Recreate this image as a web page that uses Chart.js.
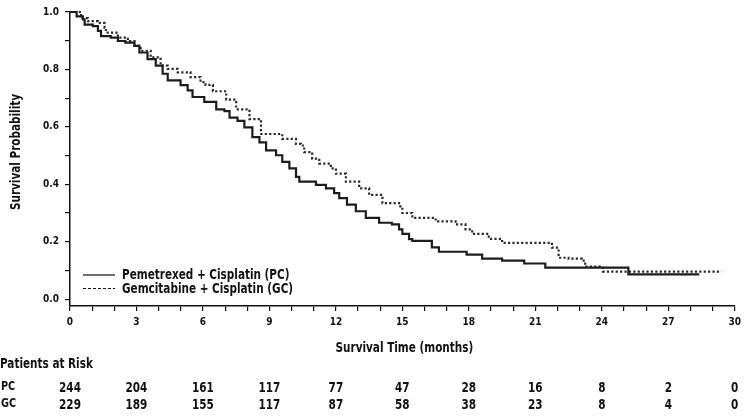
<!DOCTYPE html>
<html>
<head>
<meta charset="utf-8">
<script src="https://cdn.jsdelivr.net/npm/chart.js@4.4.1/dist/chart.umd.min.js"></script>
<style>
html,body{margin:0;padding:0;background:#fff;}
canvas{display:block;}
</style>
</head>
<body>
<canvas id="c" width="746" height="419"></canvas>
<script>
// ---- data ----
const pcTimes = [0,0.3,0.58,0.66,1.03,1.26,1.4,1.84,2.16,2.5,2.91,3.13,3.5,3.87,4.18,4.41,4.99,5.31,5.53,6.06,6.6,6.97,7.2,7.56,7.87,8.23,8.55,8.85,9.3,9.58,9.9,10.2,10.35,11.1,11.55,11.92,12.15,12.5,12.9,13.35,13.95,14.53,14.85,15.0,15.3,15.45,16.33,16.65,17.9,18.6,19.5,20.5,21.45,25.2,28.4];
const pcSurv  = [1.0,0.985,0.974,0.956,0.951,0.934,0.916,0.911,0.899,0.893,0.882,0.859,0.836,0.813,0.785,0.762,0.745,0.727,0.704,0.687,0.661,0.655,0.632,0.621,0.598,0.564,0.546,0.518,0.501,0.478,0.455,0.426,0.409,0.398,0.386,0.369,0.352,0.329,0.306,0.283,0.266,0.260,0.243,0.227,0.209,0.203,0.180,0.165,0.155,0.141,0.134,0.124,0.110,0.086,0.086];
const gcTimes = [0,0.5,0.81,1.26,1.56,1.62,2.16,2.61,2.91,3.19,3.64,4.09,4.41,4.86,5.44,5.89,6.12,6.45,7.05,7.5,8.1,8.62,9.58,10.2,10.42,10.57,10.93,11.25,11.77,12.0,12.45,13.05,13.5,14.1,14.85,15.0,15.45,16.5,17.4,17.85,18.15,18.9,19.5,21.75,22.05,22.5,23.1,23.25,24.05,29.4];
const gcSurv  = [1.0,0.979,0.968,0.962,0.945,0.928,0.911,0.899,0.882,0.865,0.842,0.813,0.802,0.790,0.773,0.756,0.746,0.724,0.695,0.661,0.627,0.575,0.558,0.541,0.535,0.512,0.489,0.472,0.455,0.437,0.409,0.386,0.363,0.334,0.323,0.300,0.283,0.271,0.260,0.243,0.227,0.210,0.196,0.179,0.144,0.141,0.134,0.113,0.096,0.096];
const xTickValues = [0,1,2,3,4,5,6,7,8,9,10,11,12,13,14,15,16,17,18,19,20,21,22,23,24,25,26,27,28,29,30];
const xTickLabels = ['0','3','6','9','12','15','18','21','24','27','30'];
const yTickValues = [0,0.1,0.2,0.3,0.4,0.5,0.6,0.7,0.8,0.9,1.0];
const yTickLabels = ['0.0','0.2','0.4','0.6','0.8','1.0'];
const riskTimes = [0,3,6,9,12,15,18,21,24,27,30];
const riskPC = [244,204,161,117,77,47,28,16,8,2,0];
const riskGC = [229,189,155,117,87,58,38,23,8,4,0];
const seriesNames = ['Pemetrexed + Cisplatin (PC)','Gemcitabine + Cisplatin (GC)'];

const FONT = "'Liberation Sans Narrow','DejaVu Sans Condensed','Roboto Condensed',sans-serif";
const INK = '#111';
const SX = 0.83;

const pcData = pcTimes.map((t,i)=>({x:t,y:pcSurv[i]}));
const gcData = gcTimes.map((t,i)=>({x:t,y:gcSurv[i]}));

function txt(ctx, s, x, y, align, size, rot){
  ctx.save();
  ctx.translate(x, y);
  if (rot) ctx.rotate(rot);
  ctx.scale(SX, 1);
  ctx.font = "bold " + size + "px " + FONT;
  ctx.textAlign = align;
  ctx.textBaseline = 'middle';
  ctx.fillStyle = INK;
  ctx.fillText(s, 0, 0);
  ctx.restore();
}

const overlay = {
  id:'overlay',
  afterDraw(chart){
    const ctx = chart.ctx;
    const xs = chart.scales.x;
    const ca = chart.chartArea;
    // y axis title
    txt(ctx, 'Survival Probability', 16, 152, 'center', 14, -Math.PI/2);
    // x axis title
    txt(ctx, 'Survival Time (months)', (ca.left+ca.right)/2 + 2, 348, 'center', 14);
    // legend
    ctx.save();
    ctx.strokeStyle = '#111';
    ctx.lineWidth = 1.2;
    ctx.beginPath(); ctx.moveTo(83,275); ctx.lineTo(115,275); ctx.stroke();
    ctx.lineWidth = 1;
    ctx.setLineDash([3,2]);
    ctx.beginPath(); ctx.moveTo(83,288.5); ctx.lineTo(115,288.5); ctx.stroke();
    ctx.restore();
    txt(ctx, seriesNames[0], 122, 275, 'left', 14);
    txt(ctx, seriesNames[1], 122, 289, 'left', 14);
    // risk table
    txt(ctx, 'Patients at Risk', 0, 364, 'left', 14);
    txt(ctx, 'PC', 1, 387, 'left', 13);
    txt(ctx, 'GC', 1, 404, 'left', 13);
    riskTimes.forEach((t,i)=>{
      const px = xs.getPixelForValue(t);
      txt(ctx, String(riskPC[i]), px, 388, 'center', 14);
      txt(ctx, String(riskGC[i]), px, 405, 'center', 14);
    });
  }
};

new Chart(document.getElementById('c'), {
  type:'line',
  data:{
    datasets:[
      {label:seriesNames[0], data:pcData, stepped:'before', borderColor:'#1c1c1c', borderWidth:2.2, pointRadius:0, fill:false, clip:false},
      {label:seriesNames[1], data:gcData, stepped:'before', borderColor:'#2a2a2a', borderWidth:2.2, borderDash:[2.2,2.2], pointRadius:0, fill:false, clip:false}
    ]
  },
  options:{
    responsive:false,
    animation:false,
    devicePixelRatio:1,
    layout:{padding:{left:0,right:9,top:8,bottom:0}},
    plugins:{legend:{display:false},tooltip:{enabled:false}},
    scales:{
      x:{
        type:'linear', min:0, max:30,
        afterFit(s){ s.height = 113; },
        afterBuildTicks(s){ s.ticks = xTickValues.map(v=>({value:v})); },
        grid:{display:true, drawOnChartArea:false, drawTicks:true, tickLength:5, color:'#111', lineWidth:1.2},
        border:{display:true, color:'#111', width:1.5},
        ticks:{
          autoSkip:false, maxRotation:0, padding:5, color:INK,
          font:{family:FONT, size:10, weight:'bold'},
          callback(v){ const i = xTickLabels.indexOf(String(v)); return i>=0 ? xTickLabels[i] : ''; }
        }
      },
      y:{
        type:'linear', min:-0.024, max:1.0,
        afterFit(s){ s.width = 70; },
        afterBuildTicks(s){ s.ticks = yTickValues.map(v=>({value:v})); },
        grid:{display:true, drawOnChartArea:false, drawTicks:true, tickLength:5, color:'#111', lineWidth:1.2},
        border:{display:true, color:'#111', width:1.5},
        title:{display:false},
        ticks:{
          autoSkip:false, padding:6, color:INK,
          font:{family:FONT, size:10, weight:'bold'},
          callback(v){ const l = Number(v).toFixed(1); return yTickLabels.includes(l) ? l : ''; }
        }
      }
    }
  },
  plugins:[overlay]
});
</script>
</body>
</html>
